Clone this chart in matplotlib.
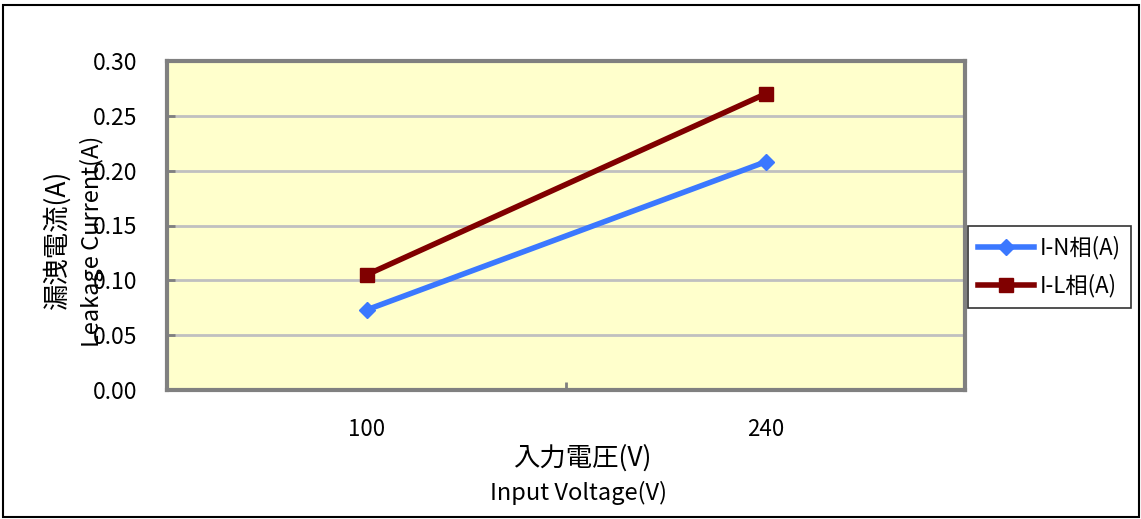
import matplotlib
matplotlib.use("Agg")
import matplotlib.pyplot as plt
from matplotlib.patches import Rectangle
from matplotlib.ticker import FixedLocator

plt.rcParams['font.family'] = ['Noto Sans CJK JP', 'DejaVu Sans']

categories = ["100", "240"]
series_names = ["I-N相(A)", "I-L相(A)"]
i_n = [0.073, 0.208]
i_l = [0.105, 0.270]
yticks = [0.00, 0.05, 0.10, 0.15, 0.20, 0.25, 0.30]

W, H = 1141, 519
fig = plt.figure(figsize=(W / 100, H / 100), dpi=100)
fig.patch.set_facecolor("white")

# outer frame
fig.add_artist(Rectangle((3 / W, 2 / H), (W - 5) / W, (H - 7) / H, transform=fig.transFigure,
                         fill=False, edgecolor="black", linewidth=1.5))

L, R, T, B = 167, 965, 61, 390
ax = fig.add_axes([L / W, 1 - B / H, (R - L) / W, (B - T) / H])
ax.set_facecolor("#FFFFCC")

x = list(range(len(categories)))
ax.plot(x, i_n, color="#3B78FF", linewidth=4, marker="D", markersize=8, label=series_names[0])
ax.plot(x, i_l, color="#800000", linewidth=4, marker="s", markersize=10, label=series_names[1])

ax.set_xlim(-0.5, len(categories) - 0.5)
ax.set_ylim(0, 0.30)
ax.set_yticks(yticks)
ax.set_yticklabels([f"{v:.2f}" for v in yticks])
ax.yaxis.grid(True, color="#C0C0C0", linewidth=2)
ax.set_axisbelow(True)

ax.set_xticks(x)
ax.set_xticklabels(categories)
ax.tick_params(axis="x", which="major", length=0, pad=20, labelsize=16)
ax.xaxis.set_minor_locator(FixedLocator([0.5]))
ax.tick_params(axis="x", which="minor", direction="in", length=6, width=2, color="#808080")
ax.tick_params(axis="y", direction="in", length=6, width=2, color="#808080", pad=21, labelsize=16.5)

for s in ax.spines.values():
    s.set_color("#808080")
    s.set_linewidth(3)

fig.text(57 / W, 1 - 239 / H, "漏洩電流(A)", rotation=90, ha="center", va="center", fontsize=19)
fig.text(92 / W, 1 - 241 / H, "Leakage Current(A)", rotation=90, ha="center", va="center", fontsize=17)
fig.text(582 / W, 1 - 458 / H, "入力電圧(V)", ha="center", va="center", fontsize=19)
fig.text(579 / W, 1 - 493 / H, "Input Voltage(V)", ha="center", va="center", fontsize=17)

leg = fig.legend(loc="upper left", bbox_to_anchor=(968 / W, 1 - 226 / H), frameon=True,
                 fancybox=False, edgecolor="black", fontsize=16, handlelength=2.5,
                 borderpad=0.45, labelspacing=0.65, handletextpad=0.3, borderaxespad=0)
leg.get_frame().set_linewidth(1.2)

fig.savefig("out.png", dpi=100, facecolor="white")
